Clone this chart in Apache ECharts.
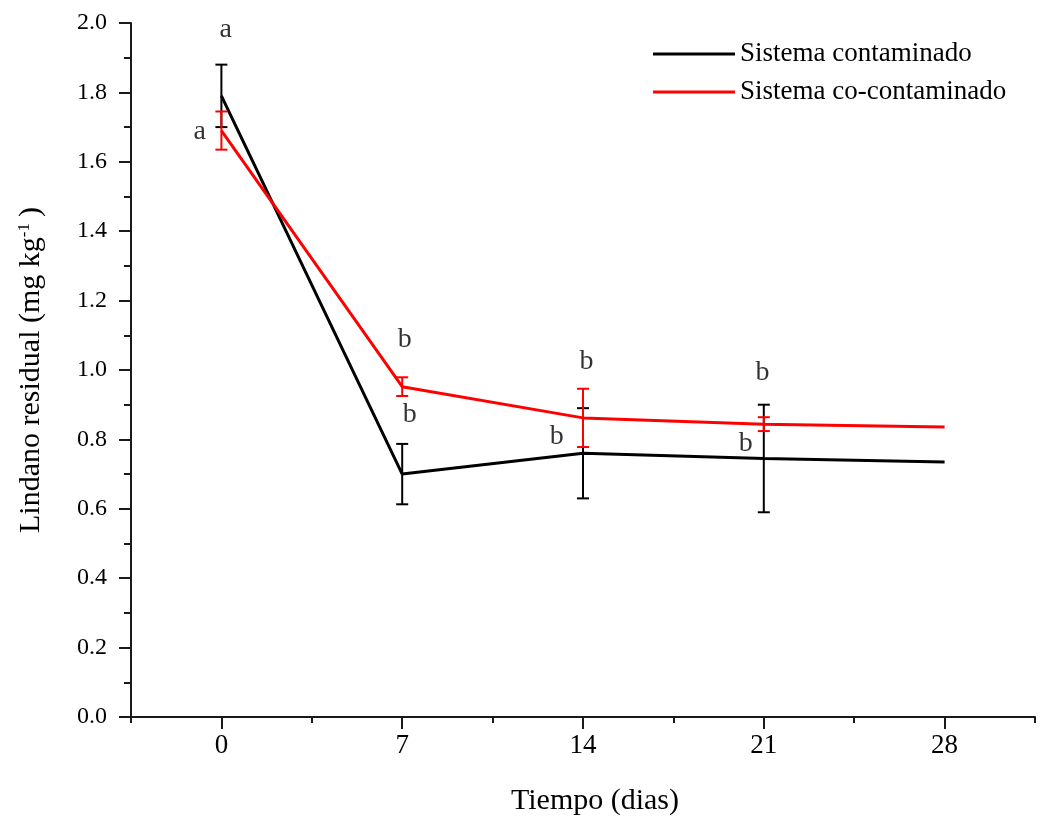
<!DOCTYPE html>
<html>
<head>
<meta charset="utf-8">
<script src="https://cdn.jsdelivr.net/npm/echarts@6/dist/echarts.min.js"></script>
<style>html,body{margin:0;padding:0;background:#fff}#c{width:1045px;height:827px}</style>
</head>
<body>
<div id="c"></div>
<script>
// ---- data ----
const days = [0, 7, 14, 21, 28];
const contamMean = [1.79, 0.70, 0.76, 0.745, 0.735];
const contamErr  = [0.09, 0.087, 0.13, 0.155, null];
const coMean = [1.69, 0.952, 0.862, 0.844, 0.836];
const coErr  = [0.055, 0.027, 0.084, 0.02, null];
const xTicks = [0, 7, 14, 21, 28];
const letterText = ['a', 'a', 'b', 'b', 'b', 'b', 'b', 'b'];
const letterX = [0.17, -0.84, 7.1, 7.29, 14.14, 12.98, 20.95, 20.3];
const letterY = [1.981, 1.686, 1.087, 0.87, 1.023, 0.807, 0.991, 0.789];
const seriesNames = ['Sistema contaminado', 'Sistema co-contaminado'];

const FONT = '"Liberation Serif","DejaVu Serif",serif';
const chart = echarts.init(document.getElementById('c'), null, {renderer: 'canvas'});

function errData(mean, err) {
  const out = [];
  days.forEach((d, i) => { if (err[i] != null) out.push([d, mean[i], err[i]]); });
  return out;
}
function errRender(color) {
  return function (params, api) {
    const x = api.value(0), y = api.value(1), e = api.value(2);
    const t = api.coord([x, y + e]), b = api.coord([x, y - e]);
    const hw = 6;
    const st = {stroke: color, lineWidth: 2};
    return {type: 'group', children: [
      {type: 'line', shape: {x1: t[0], y1: t[1], x2: b[0], y2: b[1]}, style: st},
      {type: 'line', shape: {x1: t[0] - hw, y1: t[1], x2: t[0] + hw, y2: t[1]}, style: st},
      {type: 'line', shape: {x1: b[0] - hw, y1: b[1], x2: b[0] + hw, y2: b[1]}, style: st}
    ]};
  };
}

const option = {
  backgroundColor: '#fff',
  animation: false,
  textStyle: {fontFamily: FONT},
  grid: {left: 131, right: 10, top: 23, bottom: 110, containLabel: false, outerBoundsMode: 'none'},
  legend: {
    data: seriesNames,
    orient: 'vertical',
    left: 648, top: 34,
    itemWidth: 82, itemHeight: 14, itemGap: 8,
    textStyle: {fontFamily: FONT, fontSize: 27, color: '#000', lineHeight: 30},
    icon: 'path://M0,6 L82,6 L82,9 L0,9 Z'
  },
  xAxis: [{
    type: 'value', min: -3.5, max: 31.5,
    axisLine: {show: true, onZero: false, lineStyle: {color: '#1a1a1a', width: 2}},
    axisTick: {show: true, customValues: xTicks, length: 12, inside: false, lineStyle: {color: '#1a1a1a', width: 2}},
    axisLabel: {show: true, customValues: xTicks, fontFamily: FONT, fontSize: 27, color: '#000', margin: 15},
    splitLine: {show: false},
    name: 'Tiempo (dias)', nameLocation: 'middle', nameGap: 69,
    nameTextStyle: {fontFamily: FONT, fontSize: 30, color: '#000', padding: [0, 0, 0, 24]}
  }, {
    type: 'value', min: -3.5, max: 31.5, interval: 3.5, position: 'bottom',
    axisLine: {show: false, onZero: false},
    axisTick: {show: true, length: 6, lineStyle: {color: '#1a1a1a', width: 2}},
    axisLabel: {show: false},
    splitLine: {show: false}
  }],
  yAxis: {
    type: 'value', min: 0, max: 2, interval: 0.2,
    axisLine: {show: true, onZero: false, lineStyle: {color: '#1a1a1a', width: 2}},
    axisTick: {show: true, length: 12, lineStyle: {color: '#1a1a1a', width: 2}},
    minorTick: {show: true, splitNumber: 2, length: 7, lineStyle: {color: '#1a1a1a', width: 2}},
    axisLabel: {fontFamily: FONT, fontSize: 24, color: '#000', margin: 24,
      formatter: v => Number(v).toFixed(1)},
    splitLine: {show: false},
    name: 'Lindano residual (mg kg{sup|-1})', nameLocation: 'middle', nameGap: 66,
    nameTextStyle: {fontFamily: FONT, fontSize: 30, color: '#000', padding: [0, 0, 18, 0],
      rich: {sup: {fontFamily: FONT, fontSize: 17, verticalAlign: 'top', padding: [0, 6, 14, 0], color: '#000'}}}
  },
  series: [
    {name: seriesNames[0], type: 'line', xAxisIndex: 0,
      data: days.map((d, i) => [d, contamMean[i]]),
      symbol: 'none', lineStyle: {color: '#000', width: 3}, itemStyle: {color: '#000'}, z: 2},
    {name: 'errC', type: 'custom', xAxisIndex: 0, data: errData(contamMean, contamErr),
      renderItem: errRender('#000'), z: 3},
    {name: seriesNames[1], type: 'line', xAxisIndex: 0,
      data: days.map((d, i) => [d, coMean[i]]),
      symbol: 'none', lineStyle: {color: '#ff0000', width: 3}, itemStyle: {color: '#ff0000'}, z: 4},
    {name: 'errR', type: 'custom', xAxisIndex: 0, data: errData(coMean, coErr),
      renderItem: errRender('#ff0000'), z: 5},
    {name: 'letters', type: 'scatter', xAxisIndex: 0,
      data: letterX.map((x, i) => ({value: [x, letterY[i]], name: letterText[i]})),
      symbolSize: 1, itemStyle: {color: 'rgba(0,0,0,0)'},
      label: {show: true, position: 'inside', formatter: p => p.name,
        fontFamily: FONT, fontSize: 28, color: '#000'}, z: 6}
  ]
};
chart.setOption(option);
</script>
</body>
</html>
